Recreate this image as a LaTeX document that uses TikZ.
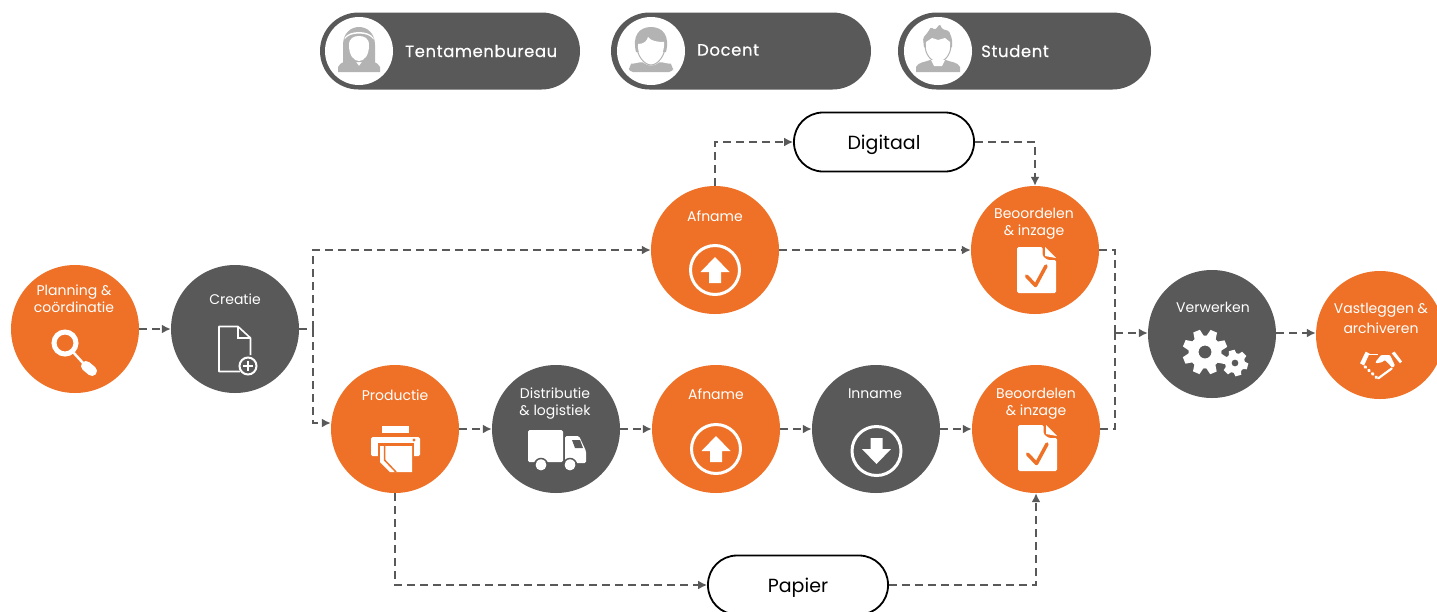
\documentclass[tikz,border=0pt]{standalone}
\usepackage{fontspec}
\setmainfont{Poppins}
\newfontfamily\rolefont{Poppins}[LetterSpace=3.5,FakeBold=0.25]
\usetikzlibrary{arrows.meta}

\definecolor{orangefill}{HTML}{EE7127}
\definecolor{darkfill}{HTML}{595959}
\definecolor{iconfill}{HTML}{B3B3B3}

\tikzset{
	orangestep/.style = {circle, fill=orangefill, minimum size=128pt, inner sep=0pt},
	darkstep/.style = {circle, fill=darkfill, minimum size=128pt, inner sep=0pt},
	steptext/.style = {text=white, align=center, font=\fontsize{14}{17}\selectfont, inner sep=0pt},
	roletext/.style = {text=white, anchor=west, font=\rolefont\fontsize{16.5}{19}\selectfont, inner sep=0pt},
	rolepill/.style = {rounded corners=38.5pt, fill=darkfill, minimum height=77pt, inner sep=0pt},
	rolehead/.style = {circle, fill=white, minimum size=68pt, inner sep=0pt},
	formbox/.style = {draw=black, line width=1.8pt, fill=white, rounded corners=29pt, minimum width=180pt, minimum height=59pt, text height=14pt, text depth=0pt, font=\fontsize{19}{22}\selectfont},
	flow/.style = {draw=darkfill, line width=1.9pt, dash pattern=on 8pt off 5pt},
	flowarrow/.style = {flow, -{Latex[length=9pt,width=9pt]}},
	uparrow/.pic = {
		\draw[white, line width=3pt] (0,0) circle (24.5);
		\fill[white] (0,-13) -- (14.5,2) -- (6,2) -- (6,13) -- (-6,13) -- (-6,2) -- (-14.5,2) -- cycle;
	},
	checkdoc/.pic = {
		\fill[white, rounded corners=1.5pt] (-19.5,-23) -- (6,-23) -- (6,-14) -- (11,-10) -- (19.5,-10) -- (19.5,23) -- (-19.5,23) -- cycle;
		\fill[white] (8.5,-23) -- (19.5,-12) -- (8.5,-14) -- cycle;
		\draw[orangefill, line width=3.5pt, line cap=round, line join=round] (-10,6) -- (-1,15.5) -- (9.5,-4);
	},
}

\begin{document}
\begin{tikzpicture}[x=1pt,y=-1pt]

	\useasboundingbox (0,0) rectangle (1437,611);
	\clip (0,0) rectangle (1437,611);

	% roles
	\node[rolepill, minimum width=260pt] (bureau) at (450,51) {};
	\node[rolepill, minimum width=260pt] (docent) at (741,51) {};
	\node[rolepill, minimum width=253pt] (student) at (1024.5,51) {};
	\node[rolehead] (bureauhead) at (359,51) {};
	\node[rolehead] (docenthead) at (651,51) {};
	\node[rolehead] (studenthead) at (938,51) {};
	\node[roletext] (bureautext) at (405,51) {Tentamenbureau};
	\node[roletext] (docenttext) at (697,50) {Docent};
	\node[roletext] (studenttext) at (981,51) {Student};

	% woman
	\begin{scope}[shift={(359,51)}]
		\fill[iconfill] (-16,11) -- (-16,-6) .. controls (-16,-30) and (16,-30) .. (16,-6) -- (16,11) -- cycle;
		\fill[white] (-14.5,-13) .. controls (-10,-21) and (10,-21) .. (14.5,-13) -- (14.5,-11.5) .. controls (10,-19.5) and (-10,-19.5) .. (-14.5,-11.5) -- cycle;
		\fill[white] (-10,-6) .. controls (-10,-13) and (-5,-15) .. (0,-15) .. controls (5,-15) and (10,-13) .. (10,-6) .. controls (10,5) and (5,10) .. (0,10) .. controls (-5,10) and (-10,5) .. (-10,-6) -- cycle;
		\fill[iconfill] (-21,21) -- (-21,16) .. controls (-19,11) and (-12,10) .. (-6,7) -- (0,15) -- (6,7) .. controls (12,10) and (19,11) .. (21,16) -- (21,21) -- cycle;
	\end{scope}

	% teacher
	\begin{scope}[shift={(651,51)}]
		\fill[iconfill] (-15,1) .. controls (-19,-15) and (-12,-24) .. (0,-24) .. controls (12,-24) and (19,-15) .. (15,1) -- cycle;
		\fill[white] (-13,-7) .. controls (-7,-7) and (-4,-10) .. (-3,-14) .. controls (0,-10) and (6,-9) .. (13,-9) .. controls (14,2) and (7,13) .. (0,13) .. controls (-7,13) and (-14,3) .. (-13,-7) -- cycle;
		\draw[iconfill, line width=1pt] (-14,-4) .. controls (-14,4) and (-7,14) .. (0,14) .. controls (7,14) and (14,4) .. (14,-4);
		\fill[iconfill, rounded corners=4pt] (-22,21) -- (-22,16) .. controls (-20,13) and (-13,12) .. (-8,10) .. controls (-4,15) and (4,15) .. (8,10) .. controls (13,12) and (20,13) .. (22,16) -- (22,21) -- cycle;
	\end{scope}

	% student
	\begin{scope}[shift={(938,51)}]
		\fill[iconfill, rounded corners=1.5pt] (-14,-3) -- (-15,-13) -- (-10,-19) -- (-7,-24) -- (-3,-21) -- (2,-27) -- (4,-22) -- (11,-20) -- (14,-12) -- (14,-3) -- cycle;
		\fill[white] (-12,-9) -- (-6,-13) -- (0,-11) -- (7,-13) -- (12,-9) .. controls (13,2) and (7,10) .. (0,10) .. controls (-7,10) and (-13,2) .. (-12,-9) -- cycle;
		\draw[iconfill, line width=1pt] (-13,-6) .. controls (-13,3) and (-7,11) .. (0,11) .. controls (7,11) and (13,3) .. (13,-6);
		\fill[iconfill] (-22,21) -- (-22,16) .. controls (-20,11) and (-12,11) .. (-8,9) -- (8,9) .. controls (12,11) and (20,11) .. (22,16) -- (22,21) -- cycle;
		\fill[white] (-7,9) -- (7,9) -- (4,15) -- (-4,15) -- cycle;
	\end{scope}

	% steps
	\node[orangestep] (planning) at (75,329) {};
	\node[darkstep] (creatie) at (235,329) {};
	\node[orangestep] (afnametop) at (715,250) {};
	\node[orangestep] (beoordeeltop) at (1035,250) {};
	\node[orangestep] (productie) at (395,429) {};
	\node[darkstep] (distributie) at (556,429) {};
	\node[orangestep] (afnamelow) at (716,429) {};
	\node[darkstep] (inname) at (876,429) {};
	\node[orangestep] (beoordeellow) at (1036,429) {};
	\node[darkstep] (verwerken) at (1212,334) {};
	\node[orangestep] (vastleggen) at (1380,335) {};

	\node[formbox] (digitaal) at (884,142) {Digitaal};
	\node[formbox] (papier) at (798,585) {Papier};

	\node[steptext] (planningtext) at (74,299) {Planning \&\\coördinatie};
	\node[steptext] (creatietext) at (235,299) {Creatie};
	\node[steptext] (afnametoptext) at (715,216) {Afname};
	\node[steptext] (beoordeeltoptext) at (1034,224) {Beoordelen\\\& inzage};
	\node[steptext] (productietext) at (395,395) {Productie};
	\node[steptext] (distributietext) at (555,404) {Distributie\\\& logistiek};
	\node[steptext] (afnamelowtext) at (716,394) {Afname};
	\node[steptext] (innametext) at (875,394) {Inname};
	\node[steptext] (beoordeellowtext) at (1036,404) {Beoordelen\\\& inzage};
	\node[steptext] (verwerkentext) at (1213,307) {Verwerken};
	\node[steptext] (vastleggentext) at (1381,318) {Vastleggen \&\\[3pt]archiveren};

	% connectors
	\coordinate (creatiesplit) at (313,329);
	\coordinate (mergeline) at (1115,333);

	\draw[flowarrow] (planning) -- (creatie);
	\draw[flow] (creatie) -- (creatiesplit);
	\draw[flowarrow] (creatiesplit) |- (afnametop.west);
	\draw[flowarrow] (creatiesplit) |- ([yshift=6pt]productie.west);
	\draw[flowarrow] (afnametop.north) |- (digitaal.west);
	\draw[flowarrow] (digitaal.east) -| (beoordeeltop.north);
	\draw[flowarrow] (afnametop) -- (beoordeeltop);
	\draw[flowarrow] (productie) -- (distributie);
	\draw[flowarrow] (distributie) -- (afnamelow);
	\draw[flowarrow] (afnamelow) -- (inname);
	\draw[flowarrow] (inname) -- (beoordeellow);
	\draw[flow] (beoordeeltop.east) -| (mergeline);
	\draw[flow] (beoordeellow.east) -| (mergeline);
	\draw[flowarrow] (mergeline) -- (verwerken.west |- mergeline);
	\draw[flowarrow] (verwerken.east |- mergeline) -- (vastleggen.west |- mergeline);
	\draw[flowarrow] (productie.south) |- (papier.west);
	\draw[flowarrow] (papier.east) -| (beoordeellow.south);

	% magnifier
	\draw[white, line width=5pt] (65,343) circle (11);
	\draw[white, line width=2.5pt] (73,352) -- (83,363);
	\draw[white, line width=10pt, line cap=round] (86,366) -- (92,371);

	% new document
	\draw[white, line width=1.6pt, line join=round] (250.5,355) -- (250.5,338) -- (238,326.5) -- (219,326.5) -- (219,371.5) -- (240,371.5);
	\draw[white, line width=1.6pt] (238,326.5) -- (238,338) -- (250.5,338);
	\draw[white, fill=darkfill, line width=2pt] (248,366) circle (8.5);
	\draw[white, line width=2.2pt] (243,366) -- (253,366) (248,361) -- (248,371);

	% printer
	\fill[white] (382,426) rectangle (409,433);
	\fill[white, rounded corners=1.5pt] (371,437) rectangle (420,456);
	\fill[orangefill] (378,443) rectangle (414,457);
	\fill[white] (380,446) -- (412,446) -- (412,472) -- (390,472) -- (380,462) -- cycle;
	\draw[orangefill, line width=1.5pt] (384.5,446) -- (384.5,460) -- (396,472);
	\fill[orangefill] (414,440) circle (1.7);

	% truck
	\fill[white, rounded corners=1.5pt] (528,430) rectangle (563,462);
	\fill[white, rounded corners=1.5pt] (565,436) -- (579,436) -- (586,451) -- (586,463) -- (565,463) -- cycle;
	\fill[darkfill] (572,440) -- (580,440) -- (583,448) -- (575,448) -- cycle;
	\fill[white] (541,465) circle (5.5) (570,465) circle (5.5);
	\draw[darkfill, line width=1.5pt] (541,465) circle (6.5) (570,465) circle (6.5);

	% up and down arrows
	\pic at (715,270) {uparrow};
	\pic at (716,449) {uparrow};
	\pic[yscale=-1] at (876.5,451) {uparrow};

	% checked documents
	\pic at (1036.5,270) {checkdoc};
	\pic at (1037.5,448) {checkdoc};

	% gears
	\begin{scope}[shift={(1205,352)}]
		\foreach \turn in {0,45,...,315}
			\fill[white, rotate=\turn+22] (-5,-15) -- (-3.5,-22.5) -- (3.5,-22.5) -- (5,-15) -- cycle;
		\fill[white, even odd rule] (0,0) circle (16.5) (0,0) circle (6.5);
	\end{scope}
	\begin{scope}[shift={(1235,363)}]
		\foreach \turn in {0,60,...,300}
			\fill[white, rotate=\turn+15] (-4,-8) -- (-3,-13) -- (3,-13) -- (4,-8) -- cycle;
		\fill[white, even odd rule] (0,0) circle (10) (0,0) circle (3.5);
	\end{scope}

	% handshake
	\begin{scope}[shift={(1381,365)}]
		\fill[white] (-21,-1.7) -- (-15.3,-13.3) -- (-11.5,-11.5) -- (-17,0.5) -- cycle;
		\fill[white] (19,-1.7) -- (10.7,-11.7) -- (13.5,-13.5) -- (21,-3.5) -- cycle;
		\fill[white, rounded corners=1pt] (-5.3,-3.3) -- (0,-10) -- (9,-10) -- (14,0.7) -- (11.3,2.7) -- (4,-5) -- (0.7,-2.7) -- (-5.3,-1.7) -- cycle;
		\draw[white, line width=1.5pt] (-13,-10.7) -- (-3,-10.7);
		\draw[white, line width=3pt, line cap=round, dash pattern=on 1pt off 4pt] (-16,1.7) -- (-4.3,12.7);
		\draw[white, line width=2.2pt, line cap=round] (-2.7,13.3) -- (10.7,3.5);
	\end{scope}

\end{tikzpicture}
\end{document}
